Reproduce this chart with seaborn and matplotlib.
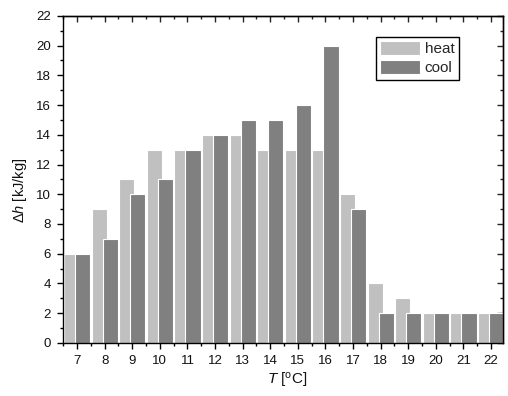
import matplotlib
matplotlib.use("Agg")
import matplotlib.pyplot as plt
import seaborn as sns
import pandas as pd
import numpy as np
from matplotlib.ticker import MultipleLocator, FixedLocator

# ---- data ----
temps = [7, 8, 9, 10, 11, 12, 13, 14, 15, 16, 17, 18, 19, 20, 21, 22]
heat = [6, 9, 11, 13, 13, 14, 14, 13, 13, 13, 10, 4, 3, 2, 2, 2]
cool = [6, 7, 10, 11, 13, 14, 15, 15, 16, 20, 9, 2, 2, 2, 2, 2]
series_labels = ["heat", "cool"]
y_ticks = list(range(0, 23, 2))

sns.set_theme(style="white")
plt.rcParams["font.family"] = ["Liberation Sans", "DejaVu Sans"]
plt.rcParams["mathtext.fontset"] = "custom"
plt.rcParams["mathtext.rm"] = "Liberation Sans"
plt.rcParams["mathtext.it"] = "Liberation Sans:italic"

fig = plt.figure(figsize=(5.08, 3.96), dpi=100)
ax = fig.add_axes([0.124, 0.134, 0.866, 0.826])

off = 0.2
df_h = pd.DataFrame({"T": np.array(temps) - off, "v": heat})
df_c = pd.DataFrame({"T": np.array(temps) + off, "v": cool})

sns.barplot(data=df_h, x="T", y="v", native_scale=True, width=0.55,
            color="#c0c0c0", saturation=1, edgecolor="white", linewidth=0.8,
            label=series_labels[0], ax=ax, errorbar=None)
sns.barplot(data=df_c, x="T", y="v", native_scale=True, width=0.55,
            color="#808080", saturation=1, edgecolor="white", linewidth=0.8,
            label=series_labels[1], ax=ax, errorbar=None)

ax.set_xlim(6.49, 22.43)
ax.set_ylim(0, 22)
ax.set_xticks(temps)
ax.set_xticklabels([str(t) for t in temps])
ax.set_yticks(y_ticks)
ax.xaxis.set_minor_locator(FixedLocator(np.arange(6.5, 23, 1.0)))
ax.yaxis.set_minor_locator(MultipleLocator(1))

for s in ax.spines.values():
    s.set_color("black")
    s.set_linewidth(1.0)

ax.tick_params(axis="both", which="major", direction="out", length=4, width=1,
               colors="black", labelsize=9.5, labelcolor="#111111",
               bottom=True, left=True, top=False, right=False)
ax.tick_params(axis="both", which="minor", direction="out", length=2.5, width=1,
               colors="black", bottom=True, left=True, top=False, right=False)
ax.tick_params(axis="x", which="major", pad=5)
ax.tick_params(axis="y", which="major", length=4.5, pad=4)

# top and right inward ticks
axt = ax.secondary_xaxis("top")
axt.set_xticks(temps)
axt.xaxis.set_minor_locator(FixedLocator(np.arange(6.5, 23, 1.0)))
axt.tick_params(which="major", direction="in", length=4.5, width=1, labeltop=False)
axt.tick_params(which="minor", direction="in", length=2.5, width=1)
axt.spines["top"].set_linewidth(1.0)

axr = ax.secondary_yaxis("right")
axr.set_yticks(y_ticks)
axr.yaxis.set_minor_locator(MultipleLocator(1))
axr.tick_params(which="major", direction="in", length=4.5, width=1, labelright=False)
axr.tick_params(which="minor", direction="in", length=2.5, width=1)
axr.spines["right"].set_linewidth(1.0)

ax.set_xlabel(r"$T$ [$^{\mathrm{o}}$C]", fontsize=11, color="#111111")
ax.set_ylabel(r"$\mathit{\Delta h}$ [kJ/kg]", fontsize=10.5, color="#111111")
ax.xaxis.set_label_coords(0.509, -0.085)
ax.yaxis.set_label_coords(-0.077, 0.465)

leg = ax.legend(loc="upper left", bbox_to_anchor=(0.711, 0.936), borderaxespad=0,
                fontsize=11, frameon=True, fancybox=False, framealpha=1,
                edgecolor="black", handlelength=2.6, handleheight=1.0,
                handletextpad=0.3, labelspacing=0.25, borderpad=0.3)
leg.get_frame().set_linewidth(1.0)

fig.savefig("out.png", dpi=100)
